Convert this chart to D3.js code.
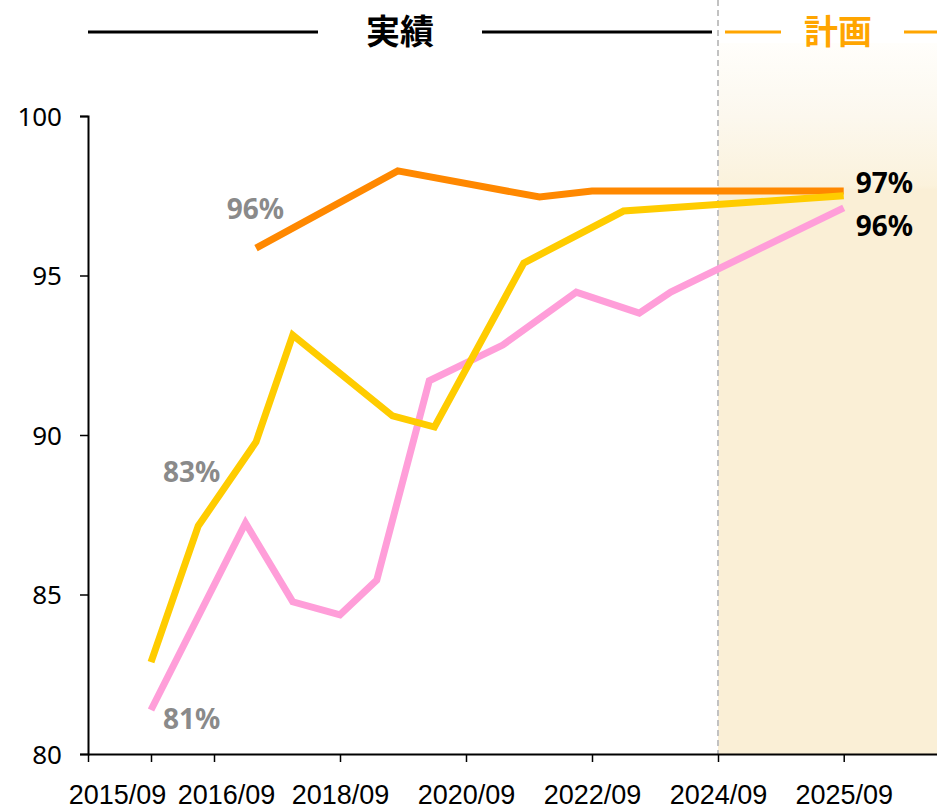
<!DOCTYPE html>
<html><head><meta charset="utf-8">
<script src="https://cdn.jsdelivr.net/npm/d3@7"></script>
<style>
html,body{margin:0;padding:0;background:#fff;}
svg{display:block;}
</style></head>
<body>
<svg id="chart" width="937" height="810"></svg>
<script>
// ---- data ----
const tickLabels = ["2015/09","2016/09","2018/09","2020/09","2022/09","2024/09","2025/09"];
const yTicks = [80, 85, 90, 95, 100];
const planStart = "2024/09";

const orangeDates  = ["2017/05","2019/08","2021/11","2022/09","2025/09"];
const orangeValues = [95.86, 98.28, 97.46, 97.65, 97.65];

const yellowDates  = ["2015/09","2016/06","2017/05","2017/12","2019/07","2020/03","2021/08","2023/03","2025/09"];
const yellowValues = [82.88, 87.15, 89.78, 93.13, 90.6, 90.25, 95.39, 97.02, 97.5];

const pinkDates  = ["2015/09","2017/03","2017/12","2018/09","2019/04","2020/02","2021/04","2022/06","2023/06","2023/12","2025/09"];
const pinkValues = [81.38, 87.24, 84.77, 84.36, 85.45, 91.7, 92.82, 94.48, 93.82, 94.48, 97.12];

const startLabels = ["96%", "83%", "81%"];
const endLabels = ["97%", "96%"];
const headerActual = "実績";
const headerPlan = "計画";

// ---- helpers ----
const dec = s => { const [y, m] = s.split("/").map(Number); return y + m / 12; };

const svg = d3.select("#chart");
const W = 937, H = 810;

const x = d3.scaleLinear()
  .domain([dec("2014/09"), dec("2024/09"), 2026.5])
  .range([88, 718, 938]);
const y = d3.scaleLinear().domain([80, 100]).range([754, 116]);

const defs = svg.append("defs");
const grad = defs.append("linearGradient").attr("id", "planGrad")
  .attr("gradientUnits", "userSpaceOnUse")
  .attr("x1", 0).attr("y1", 43).attr("x2", 0).attr("y2", 190);
grad.append("stop").attr("offset", 0).attr("stop-color", "#fffefb");
grad.append("stop").attr("offset", 0.5).attr("stop-color", "#fcf8ee");
grad.append("stop").attr("offset", 0.97).attr("stop-color", "#fbf2dc");
grad.append("stop").attr("offset", 1).attr("stop-color", "#faefd6");

// plan background
const px = x(dec(planStart));
svg.append("rect").attr("x", px).attr("y", 43)
  .attr("width", W - px).attr("height", y(80) - 43)
  .attr("fill", "url(#planGrad)");

// dashed divider
svg.append("line").attr("x1", px).attr("x2", px).attr("y1", 0).attr("y2", y(80))
  .attr("stroke", "#c2c2c2").attr("stroke-width", 2).attr("stroke-dasharray", "6,4");

// header
const hy = 32;
svg.append("line").attr("x1", 88).attr("x2", 318).attr("y1", hy).attr("y2", hy)
  .attr("stroke", "#000").attr("stroke-width", 3);
svg.append("line").attr("x1", 482).attr("x2", 712).attr("y1", hy).attr("y2", hy)
  .attr("stroke", "#000").attr("stroke-width", 3);
svg.append("text").attr("x", 400).attr("y", 44).attr("text-anchor", "middle")
  .attr("font-family", "'Noto Sans CJK JP', sans-serif").attr("font-weight", "bold")
  .attr("font-size", 34).attr("fill", "#000").text(headerActual);
svg.append("line").attr("x1", 725).attr("x2", 781).attr("y1", hy).attr("y2", hy)
  .attr("stroke", "#ffa500").attr("stroke-width", 3);
svg.append("line").attr("x1", 904).attr("x2", 937).attr("y1", hy).attr("y2", hy)
  .attr("stroke", "#ffa500").attr("stroke-width", 3);
svg.append("text").attr("x", 838).attr("y", 44).attr("text-anchor", "middle")
  .attr("font-family", "'Noto Sans CJK JP', sans-serif").attr("font-weight", "bold")
  .attr("font-size", 34).attr("fill", "#ffa500").text(headerPlan);

// axes
const yAxis = d3.axisLeft(y).tickValues(yTicks).tickSize(8).tickPadding(18).tickFormat(d3.format("d"));
const gy = svg.append("g").attr("transform", "translate(88,0)").call(yAxis);
gy.select(".domain").attr("stroke", "#000").attr("stroke-width", 2);
gy.selectAll(".tick line").attr("stroke", "#000").attr("stroke-width", 1.5);
gy.selectAll(".tick text").attr("font-family", "'Noto Sans', sans-serif")
  .attr("font-size", 26).attr("fill", "#000").attr("dy", "0.36em");

const xTickVals = [dec("2014/09")].concat(tickLabels.map(dec));
const labelByVal = new Map(tickLabels.map(l => [dec(l), l]));
const xAxis = d3.axisBottom(x).tickValues(xTickVals).tickSize(8).tickSizeOuter(0)
  .tickFormat(v => labelByVal.get(v) || "");
const gx = svg.append("g").attr("transform", `translate(0,${y(80)})`).call(xAxis);
gx.select(".domain").attr("stroke", "#000").attr("stroke-width", 2);
gx.selectAll(".tick line").attr("stroke", "#000").attr("stroke-width", 1.5);
gx.selectAll(".tick text")
  .attr("font-family", "'Liberation Sans Narrow', 'Liberation Sans', sans-serif")
  .attr("font-size", 27).attr("fill", "#000")
  .attr("y", 0).attr("dy", 50)
  .attr("dx", v => { const l = labelByVal.get(v); return l === "2015/09" ? -34 : l === "2016/09" ? 12 : 0; });

// lines
const line = d3.line().x(d => x(dec(d[0]))).y(d => y(d[1]));
const series = [
  {dates: orangeDates, values: orangeValues, color: "#ff8800"},
  {dates: pinkDates, values: pinkValues, color: "#ff9ed9"},
  {dates: yellowDates, values: yellowValues, color: "#ffcc00"}
];
series.forEach(s => {
  svg.append("path").datum(d3.zip(s.dates, s.values))
    .attr("d", line).attr("fill", "none").attr("stroke", s.color)
    .attr("stroke-width", 7).attr("stroke-linejoin", "miter");
});

// value labels
const lblFont = "'Noto Sans', sans-serif";
function lab(txt, px0, py0, dx, dy, anchor, color, size) {
  svg.append("text").attr("x", px0 + dx).attr("y", py0 + dy)
    .attr("text-anchor", anchor).attr("font-family", lblFont)
    .attr("font-weight", "bold").attr("font-size", size).attr("fill", color).text(txt);
}
lab(startLabels[0], x(dec(orangeDates[0])), y(orangeValues[0]), 28, -29, "end", "#8a8a8a", 28);
lab(startLabels[1], x(dec(yellowDates[0])), y(yellowValues[0]), 12, -180, "start", "#8a8a8a", 28);
lab(startLabels[2], x(dec(pinkDates[0])), y(pinkValues[0]), 12, 19, "start", "#8a8a8a", 28);
lab(endLabels[0], x(dec(orangeDates[orangeDates.length - 1])), y(orangeValues[orangeValues.length - 1]), 12, 2, "start", "#000", 28);
lab(endLabels[1], x(dec(pinkDates[pinkDates.length - 1])), y(pinkValues[pinkValues.length - 1]), 12, 28, "start", "#000", 28);
</script>
</body></html>
